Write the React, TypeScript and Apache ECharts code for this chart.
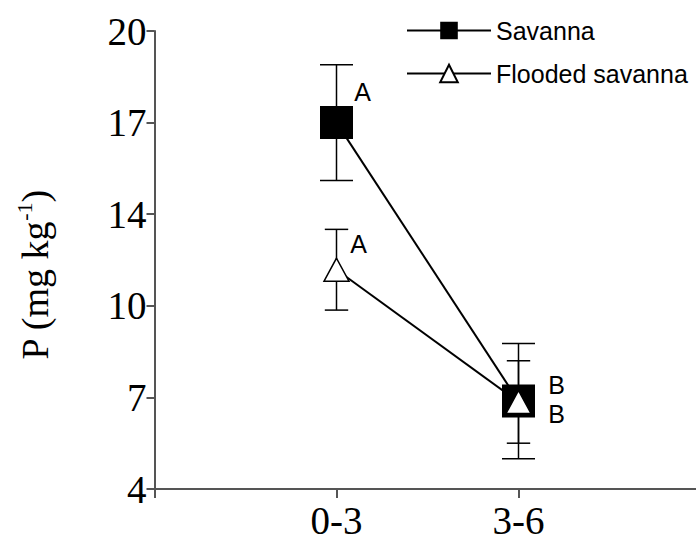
import React, { useEffect, useRef } from 'react';
import * as echarts from 'echarts';

const categories = ['0-3', '3-6'];
const savanna = [16.8, 7.07];
const savannaErr = [2.02, 2.01];
const flooded = [11.66, 7.04];
const floodedErr = [1.41, 1.44];
const savannaLetters = ['A', 'B'];
const floodedLetters = ['A', 'B'];
const yTickValues = [4, 7.2, 10.4, 13.6, 16.8, 20];
const yTickLabels = ['4', '7', '10', '14', '17', '20'];
const axisCategories = ['', ...categories, ''];
const yTitle = '{t|P (mg kg}{s|-1}{t|)}';

const SERIF = 'Liberation Serif';
const SANS = 'Liberation Sans';
const AXIS_COLOR = '#555';

function errorSeries(name: string, values: number[], errs: number[], halfWidth: number) {
  return {
    type: 'custom',
    name,
    z: 1,
    silent: true,
    encode: { x: 0, y: [1, 2] },
    data: categories.map((c, i) => [c, values[i] - errs[i], values[i] + errs[i]]),
    renderItem: (_params: any, api: any) => {
      const lo = api.coord([api.value(0), api.value(1)]);
      const hi = api.coord([api.value(0), api.value(2)]);
      const style = { stroke: '#000', lineWidth: 1.5 };
      return {
        type: 'group',
        children: [
          { type: 'line', shape: { x1: hi[0], y1: hi[1], x2: lo[0], y2: lo[1] }, style },
          { type: 'line', shape: { x1: hi[0] - halfWidth, y1: hi[1], x2: hi[0] + halfWidth, y2: hi[1] }, style },
          { type: 'line', shape: { x1: lo[0] - halfWidth, y1: lo[1], x2: lo[0] + halfWidth, y2: lo[1] }, style },
        ],
      };
    },
  };
}

const letterLabel = (text: string, offset: number[]) => ({
  show: true,
  position: 'inside',
  formatter: text,
  offset,
  fontFamily: SANS,
  fontSize: 25,
  color: '#000',
});

export default function App() {
  const ref = useRef<HTMLDivElement>(null);
  useEffect(() => {
    if (!ref.current) return;
    const chart = echarts.init(ref.current, undefined, { renderer: 'svg' });
    const savannaOffsets = [[26, -31], [38, -16]];
    const floodedOffsets = [[22, -26], [38, 12]];
    chart.setOption({
      animation: false,
      backgroundColor: '#fff',
      grid: {
        left: 154.5,
        top: 31,
        bottom: 52,
        width: 546,
        containLabel: false,
        outerBoundsMode: 'none',
      },
      graphic: [
        {
          type: 'text',
          x: 35,
          y: 275,
          rotation: Math.PI / 2,
          style: {
            text: yTitle,
            align: 'center',
            verticalAlign: 'middle',
            rich: {
              t: { fontFamily: SERIF, fontSize: 38, fill: '#000', lineHeight: 44 },
              s: { fontFamily: SERIF, fontSize: 22, fill: '#000', lineHeight: 22, verticalAlign: 'top' },
            },
          },
        },
      ],
      legend: {
        orient: 'vertical',
        left: 401,
        top: 13,
        itemWidth: 84,
        itemHeight: 22,
        itemGap: 18,
        textStyle: { fontFamily: SANS, fontSize: 25, color: '#000' },
        data: ['Savanna', 'Flooded savanna'],
        selectedMode: false,
      },
      xAxis: {
        type: 'category',
        data: axisCategories,
        boundaryGap: false,
        axisLine: { lineStyle: { color: AXIS_COLOR, width: 2 } },
        axisTick: { show: true, length: 9, lineStyle: { color: AXIS_COLOR, width: 2 } },
        axisLabel: {
          interval: 0,
          margin: 12,
          fontFamily: SERIF,
          fontSize: 39,
          color: '#000',
        },
        splitLine: { show: false },
      },
      yAxis: {
        type: 'value',
        min: 4,
        max: 20,
        axisLine: { show: true, lineStyle: { color: AXIS_COLOR, width: 2 } },
        axisTick: { show: true, length: 8, customValues: yTickValues, lineStyle: { color: AXIS_COLOR, width: 2 } },
        axisLabel: {
          customValues: yTickValues,
          margin: 8,
          fontFamily: SERIF,
          fontSize: 39,
          color: '#000',
          formatter: (v: number) => {
            const idx = yTickValues.findIndex((t) => Math.abs(t - v) < 1e-6);
            return idx >= 0 ? yTickLabels[idx] : '';
          },
        },
        splitLine: { show: false },
      },
      series: [
        errorSeries('Savanna error', savanna, savannaErr, 16.5),
        errorSeries('Flooded error', flooded, floodedErr, 11.7),
        {
          type: 'line',
          name: 'Savanna',
          z: 2,
          symbol: 'rect',
          symbolSize: 33,
          itemStyle: { color: '#000' },
          lineStyle: { color: '#000', width: 2 },
          data: categories.map((c, i) => ({
            value: [c, savanna[i]],
            label: letterLabel(savannaLetters[i], savannaOffsets[i]),
          })),
        },
        {
          type: 'line',
          name: 'Flooded savanna',
          z: 3,
          symbol: 'triangle',
          symbolSize: [25, 23],
          itemStyle: { color: '#fff', borderColor: '#000', borderWidth: 1.5 },
          lineStyle: { color: '#000', width: 2 },
          data: categories.map((c, i) => ({
            value: [c, flooded[i]],
            label: letterLabel(floodedLetters[i], floodedOffsets[i]),
          })),
        },
      ],
    });
    return () => chart.dispose();
  }, []);
  return (
    <div
      ref={ref}
      style={{ position: 'absolute', left: 0, top: 0, width: 696, height: 541, background: '#fff' }}
    />
  );
}
